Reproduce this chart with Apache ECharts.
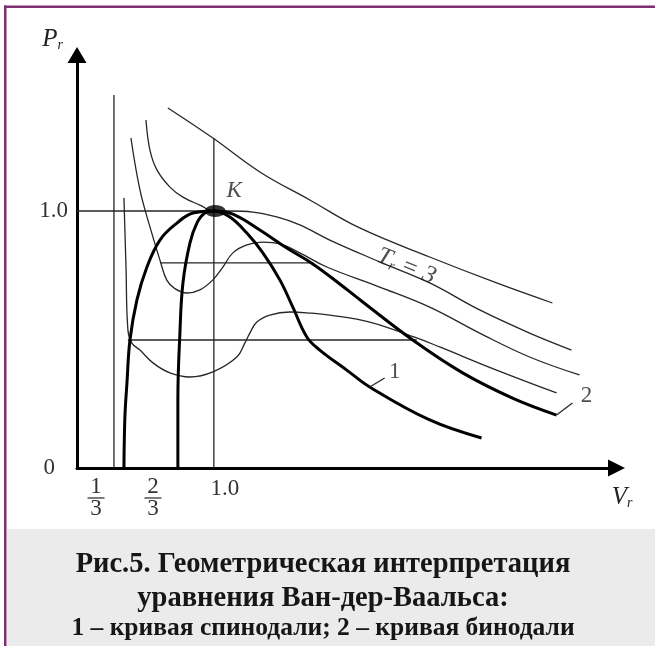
<!DOCTYPE html>
<html>
<head>
<meta charset="utf-8">
<script src="https://cdn.jsdelivr.net/npm/echarts@6/dist/echarts.min.js"></script>
<style>
  html, body { margin: 0; padding: 0; background: #fff; }
  #chart { width: 655px; height: 646px; }
</style>
</head>
<body>
<div id="chart"></div>
<script>
// Reduced volume V_r (x) and reduced pressure P_r (y) along each curve.
const isoT3 = [[0.664,1.401],[0.993,1.284],[1.336,1.152],[1.701,1.043],[2.066,0.934],[2.577,0.821],[3.066,0.720],[3.474,0.642]];
const isoCritical = [[0.504,1.354],[0.533,1.237],[0.584,1.160],[0.679,1.093],[0.774,1.054],[0.898,1.023],[1.0,1.0],[1.117,1.0],[1.285,0.996],[1.460,0.977],[1.628,0.946],[1.847,0.887],[2.212,0.802],[2.577,0.720],[2.942,0.615],[3.307,0.525],[3.613,0.459]];
const isoUpper = [[0.394,1.284],[0.460,1.082],[0.533,0.938],[0.606,0.809],[0.657,0.730],[0.715,0.698],[0.803,0.681],[0.898,0.693],[0.993,0.732],[1.066,0.782],[1.139,0.837],[1.241,0.868],[1.358,0.879],[1.482,0.872],[1.628,0.837],[1.825,0.782],[2.212,0.704],[2.577,0.626],[2.942,0.525],[3.307,0.432],[3.672,0.362]];
const isoLower = [[0.343,1.051],[0.358,0.782],[0.372,0.537],[0.401,0.486],[0.460,0.459],[0.555,0.409],[0.679,0.370],[0.825,0.354],[0.993,0.374],[1.168,0.432],[1.226,0.486],[1.263,0.525],[1.314,0.568],[1.409,0.595],[1.555,0.607],[1.701,0.603],[1.847,0.595],[2.139,0.568],[2.482,0.506],[2.650,0.471],[3.066,0.381],[3.504,0.292]];
const binodal = [[0.343,0],[0.350,0.198],[0.365,0.331],[0.387,0.498],[0.438,0.654],[0.511,0.782],[0.606,0.887],[0.730,0.953],[0.847,0.992],[1.0,1.0],[1.139,0.988],[1.336,0.926],[1.533,0.856],[1.723,0.794],[1.920,0.716],[2.088,0.646],[2.453,0.498],[2.818,0.370],[3.182,0.272],[3.504,0.206]];
const spinodal = [[0.737,0],[0.737,0.265],[0.752,0.525],[0.774,0.720],[0.825,0.875],[0.876,0.953],[0.934,0.992],[1.0,1.0],[1.117,0.977],[1.241,0.914],[1.358,0.837],[1.482,0.732],[1.577,0.626],[1.679,0.510],[1.774,0.459],[1.971,0.381],[2.139,0.315],[2.577,0.187],[2.956,0.117]];

// Horizontal tie lines (saturation pressures) and guide lines
const tieUpper = [[0.606,0.798],[1.723,0.798]];
const tieLower = [[0.372,0.498],[2.482,0.498]];
const guideP1 = [[0,1.0],[1.0,1.0]];
const guideV1 = [[1.0,0],[1.0,1.284]];
const guideB = [[0.270,0],[0.270,1.451]];
const criticalPoint = [1.0, 1.0];

// Tick labels
const yTickValues = [0, 1.0];
const yTickText = ['0', '1.0'];
const xTickAt = [0.139, 0.555, 1.080];
const xTickText = ['1/3', '2/3', '1.0'];

// Curve number markers: leader start on the curve, leader end, label anchor
const leader1 = [spinodal[16], [2.248, 0.350]];
const leader2 = [binodal[19], [3.620, 0.253]];
const marker1At = [2.321, 0.374];
const marker2At = [3.723, 0.280];

const captionLines = [
  'Рис.5. Геометрическая интерпретация',
  'уравнения Ван-дер-Ваальса:',
  '1 – кривая спинодали; 2 – кривая бинодали'
];

const V_MAX = 3.942, P_MAX = 1.607;
const serif = '"Liberation Serif", serif';
const thin = { width: 1.3, color: '#262626' };
const thick = { width: 3, color: '#000' };

function curve(name, data, style, smooth, z) {
  return { type: 'line', name, data, smooth: smooth, showSymbol: false, symbol: 'none',
           lineStyle: style, z: z, silent: true, clip: false };
}
function textPoint(name, at, text, labelOpts) {
  return { type: 'scatter', name, symbolSize: 0, silent: true, z: 5,
           data: [{ value: at, label: Object.assign({ show: true, formatter: text, position: 'inside',
             color: '#222', fontFamily: serif, fontSize: 23 }, labelOpts || {}) }] };
}

const fracRich = {
  n: { fontFamily: serif, fontSize: 23, lineHeight: 18, color: '#333', align: 'center' },
  b: { width: 17, height: 1.4, lineHeight: 4, backgroundColor: '#444', fontSize: 1, align: 'center' },
  d: { fontFamily: serif, fontSize: 23, lineHeight: 18, color: '#333', align: 'center' },
  w: { fontFamily: serif, fontSize: 23, lineHeight: 22, color: '#333' }
};
const capFont = '"Liberation Serif", serif';

const chart = echarts.init(document.getElementById('chart'));
chart.setOption({
  animation: false,
  backgroundColor: '#fff',
  grid: { left: 77, right: 38.5, top: 55, bottom: 178, outerBoundsMode: 'none' },
  xAxis: {
    type: 'value', min: 0, max: V_MAX,
    name: '{v|V}{s|r}', nameLocation: 'end', nameGap: 5.5,
    nameTextStyle: { align: 'center', verticalAlign: 'top', padding: [18, 0, 0, 0],
      rich: { v: { fontFamily: serif, fontStyle: 'italic', fontSize: 25, lineHeight: 24, color: '#222', verticalAlign: 'bottom' },
              s: { fontFamily: serif, fontStyle: 'italic', fontSize: 14, lineHeight: 14, color: '#222', verticalAlign: 'bottom' } } },
    axisLine: { show: true, symbol: ['none', 'triangle'], symbolSize: [17, 17], lineStyle: { color: '#000', width: 3 } },
    axisTick: { show: false },
    splitLine: { show: false },
    axisLabel: {
      customValues: xTickAt, margin: 10, color: '#333',
      formatter: function (v) {
        const t = xTickText[xTickAt.indexOf(v)];
        if (t && t.indexOf('/') > 0) { const p = t.split('/'); return '{n|' + p[0] + '}\n{b| }\n{d|' + p[1] + '}'; }
        return '{w|' + t + '}';
      },
      rich: fracRich
    }
  },
  yAxis: {
    type: 'value', min: 0, max: P_MAX,
    name: '{p|P}{s|r}', nameLocation: 'end', nameGap: 3,
    nameTextStyle: { align: 'right', padding: [0, 14, 0, 0],
      rich: { p: { fontFamily: serif, fontStyle: 'italic', fontSize: 25, lineHeight: 24, color: '#222', verticalAlign: 'bottom' },
              s: { fontFamily: serif, fontStyle: 'italic', fontSize: 14, lineHeight: 14, color: '#222', verticalAlign: 'bottom' } } },
    axisLine: { show: true, symbol: ['none', 'triangle'], symbolSize: [19, 16], lineStyle: { color: '#000', width: 3 } },
    axisTick: { show: false },
    splitLine: { show: false },
    axisLabel: {
      customValues: yTickValues, margin: 9, color: '#333',
      formatter: function (v) {
        const t = yTickText[yTickValues.indexOf(v)];
        return v === 0 ? '{z|' + t + '}' : '{w|' + t + '}';
      },
      rich: {
        w: { fontFamily: serif, fontSize: 23, color: '#333' },
        z: { fontFamily: serif, fontSize: 23, color: '#333', padding: [0, 13, 0, 0] }
      }
    }
  },
  series: [
    curve('guideP1', guideP1, thin, false, 1),
    curve('guideV1', guideV1, thin, false, 1),
    curve('guideB', guideB, thin, false, 1),
    curve('tieUpper', tieUpper, thin, false, 1),
    curve('tieLower', tieLower, thin, false, 1),
    curve('T3', isoT3, thin, 0.4, 2),
    curve('Tc', isoCritical, thin, 0.4, 2),
    curve('Tupper', isoUpper, thin, 0.4, 2),
    curve('Tlower', isoLower, thin, 0.4, 2),
    curve('binodal', binodal, thick, 0.4, 3),
    curve('spinodal', spinodal, thick, 0.4, 3),
    curve('leader1', leader1, thin, false, 3),
    curve('leader2', leader2, thin, false, 3),
    {
      type: 'scatter', name: 'K', silent: true, z: 4,
      symbol: 'path://M0,1A1,1,0,1,1,2,1A1,1,0,1,1,0,1Z', symbolSize: [21, 12],
      itemStyle: { color: '#000' },
      data: [{ value: [criticalPoint[0] + 0.01, criticalPoint[1]],
        label: { show: true, formatter: 'K', position: 'inside', offset: [19, -20],
          fontFamily: serif, fontStyle: 'italic', fontSize: 23, color: '#222' } }]
    },
    textPoint('T3label', isoT3[5], '{t|T}{s|r}{t| = 3}', {
      offset: [-18, 18], rotate: -22,
      rich: { t: { fontFamily: serif, fontStyle: 'italic', fontSize: 25, lineHeight: 24, color: '#222', verticalAlign: 'bottom' },
              s: { fontFamily: serif, fontStyle: 'italic', fontSize: 14, lineHeight: 14, color: '#222', verticalAlign: 'bottom' } }
    }),
    textPoint('m1', marker1At, '1'),
    textPoint('m2', marker2At, '2')
  ],
  graphic: [
    { type: 'rect', silent: true, z: -10, shape: { x: 7, y: 529, width: 648, height: 117 }, style: { fill: '#ebebeb' } },
    { type: 'rect', silent: true, z: 10, shape: { x: 4, y: 5.5, width: 2.5, height: 641 }, style: { fill: '#7e2f6f' } },
    { type: 'rect', silent: true, z: 10, shape: { x: 4, y: 5.5, width: 651, height: 2.5 }, style: { fill: '#7e2f6f' } },
    { type: 'text', silent: true, x: 323, y: 565, style: { text: captionLines[0], font: 'bold 28.5px ' + capFont, fill: '#161616', align: 'center', verticalAlign: 'middle' } },
    { type: 'text', silent: true, x: 323, y: 599, style: { text: captionLines[1], font: 'bold 28.5px ' + capFont, fill: '#161616', align: 'center', verticalAlign: 'middle' } },
    { type: 'text', silent: true, x: 323, y: 628, style: { text: captionLines[2], font: 'bold 25.5px ' + capFont, fill: '#161616', align: 'center', verticalAlign: 'middle' } }
  ]
});
</script>
</body>
</html>
